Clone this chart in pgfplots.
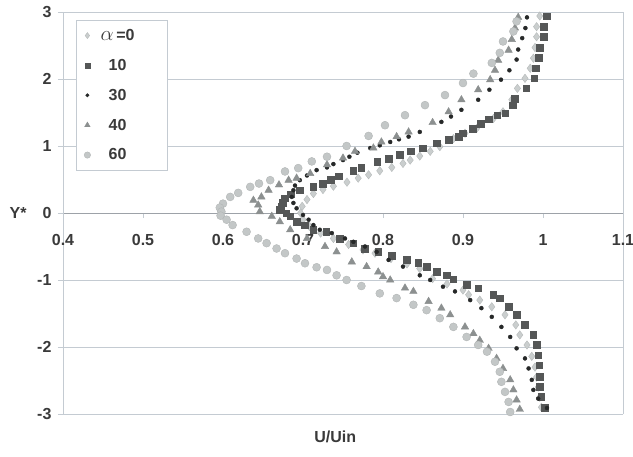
\documentclass[border=0pt]{standalone}
\usepackage{pgfplots}
\pgfplotsset{compat=1.18}
\usepackage{fontspec}
\setmainfont{Liberation Sans}
\definecolor{txt}{HTML}{3A3A3A}
\definecolor{gridc}{HTML}{C4CBD2}
\definecolor{cdiam}{HTML}{CACECE}
\definecolor{cdiamE}{HTML}{B6BABA}
\definecolor{csq}{HTML}{555757}
\definecolor{cdot}{HTML}{262828}
\definecolor{ctri}{HTML}{8C9090}
\definecolor{ccirc}{HTML}{C3C7C7}
\definecolor{ccircE}{HTML}{B2B6B6}
\newcommand{\lt}[1]{\makebox[70pt][l]{\makebox[50pt][c]{#1}}}
\begin{document}
\begin{tikzpicture}
\path[use as bounding box] (-63pt,-42pt) rectangle (570pt,414pt);
\begin{axis}[
  scale only axis, width=560pt, height=402pt,
  xmin=0.4, xmax=1.1, ymin=-3, ymax=3,
  axis x line=middle, axis y line=box,
  x axis line style={-, color=gridc!80!black, line width=0.6pt},
  y axis line style={-, color=gridc, line width=0.6pt},
  xtick={0.4,0.5,0.6,0.7,0.8,0.9,1,1.1},
  ytick={-3,-2,-1,0,1,2,3},
  ytick pos=left,
  tick align=outside,
  major tick length=5pt,
  tick style={color=gridc, line width=0.6pt},
  hide obscured x ticks=false,
  hide obscured y ticks=false,
  ymajorgrids, grid style={color=gridc, line width=0.6pt},
  /pgf/number format/assume math mode=true,
  tick label style={font=\fontsize{16}{19}\selectfont\bfseries, text=txt},
  xticklabel style={yshift=-13pt},
  yticklabel style={xshift=-3pt},
  every axis x label/.style={at={(axis description cs:0.486,-0.057)}, anchor=center},
  every axis y label/.style={at={(axis description cs:-0.080,0.5)}, anchor=center},
  label style={font=\fontsize{16}{19}\selectfont\bfseries, text=txt},
  xlabel={U/Uin}, ylabel={Y*},
  legend style={at={(axis description cs:0.0232,0.980)}, anchor=north west,
    draw=gridc, fill=white, font=\fontsize{16}{19}\selectfont\bfseries, text=txt,
    row sep=13.2pt, inner xsep=3pt, inner ysep=7pt},
  legend cell align=center,
  /tikz/every even column/.append style={column sep=2pt},
  legend image code/.code={\path (0pt,0pt) (11pt,0pt); \draw[#1] plot coordinates {(8pt,0pt)};},
]
\addplot[only marks, mark=diamond*, mark size=4.2pt, mark options={fill=cdiam, draw=cdiamE}, legend image post style={mark size=3pt}] coordinates {
(0.996,2.94)(0.992,2.78)(0.992,2.63)(0.990,2.47)(0.988,2.31)(0.984,2.16)(0.9775,2.01)(0.968,1.86)(0.961,1.69)(0.950,1.51)(0.938,1.41)(0.917,1.26)(0.9025,1.19)(0.888,1.11)(0.871,0.99)(0.859,0.92)(0.846,0.85)(0.834,0.79)(0.825,0.74)(0.811,0.68)(0.796,0.63)(0.782,0.57)(0.769,0.52)(0.755,0.46)(0.738,0.40)(0.725,0.35)(0.713,0.29)(0.705,0.20)(0.699,0.10)(0.697,0.00)(0.700,-0.10)(0.708,-0.20)(0.722,-0.30)(0.738,-0.38)(0.757,-0.47)(0.775,-0.55)(0.790,-0.60)(0.810,-0.68)(0.830,-0.76)(0.846,-0.83)(0.862,-0.98)(0.880,-1.06)(0.900,-1.15)(0.907,-1.22)(0.921,-1.30)(0.936,-1.40)(0.9525,-1.52)(0.966,-1.67)(0.971,-1.82)(0.980,-1.97)(0.986,-2.14)(0.990,-2.30)(0.992,-2.45)(0.994,-2.60)(0.996,-2.75)(0.998,-2.90)
};
\addlegendentry{\lt{{\fontsize{21}{21}\selectfont$\alpha$}\,=0}}
\addplot[only marks, mark=square*, mark size=3.3pt, mark options={fill=csq, draw=csq}, legend image post style={mark size=2.6pt}] coordinates {
(1.005,2.94)(1.001,2.78)(1.001,2.63)(0.996,2.47)(0.995,2.32)(0.991,2.16)(0.989,2.01)(0.979,1.86)(0.965,1.71)(0.962,1.61)(0.953,1.49)(0.943,1.46)(0.9325,1.40)(0.9225,1.33)(0.912,1.26)(0.900,1.19)(0.895,1.14)(0.882,1.09)(0.867,1.04)(0.850,0.97)(0.835,0.92)(0.821,0.87)(0.8075,0.81)(0.793,0.77)(0.773,0.68)(0.763,0.63)(0.745,0.55)(0.735,0.50)(0.725,0.44)(0.713,0.39)(0.696,0.34)(0.685,0.28)(0.6775,0.22)(0.675,0.15)(0.673,0.09)(0.671,0.045)(0.679,0.00)(0.684,-0.05)(0.692,-0.13)(0.7025,-0.18)(0.713,-0.25)(0.729,-0.28)(0.746,-0.38)(0.763,-0.45)(0.7775,-0.53)(0.794,-0.58)(0.811,-0.64)(0.8295,-0.70)(0.844,-0.74)(0.8545,-0.80)(0.867,-0.88)(0.8795,-0.93)(0.888,-0.99)(0.9045,-1.07)(0.919,-1.12)(0.938,-1.22)(0.946,-1.27)(0.957,-1.40)(0.967,-1.52)(0.9775,-1.67)(0.988,-1.82)(0.992,-1.97)(0.994,-2.12)(0.9955,-2.27)(0.996,-2.44)(0.996,-2.59)(0.998,-2.74)(1.0025,-2.91)
};
\addlegendentry{\lt{10}}
\addplot[only marks, mark=*, mark size=2pt, mark options={fill=cdot, draw=cdot}, legend image post style={mark size=1.7pt}] coordinates {
(0.980,2.92)(0.978,2.76)(0.974,2.61)(0.969,2.44)(0.967,2.29)(0.958,2.13)(0.9475,1.99)(0.933,1.84)(0.919,1.69)(0.898,1.54)(0.885,1.44)(0.873,1.36)(0.846,1.21)(0.832,1.14)(0.820,1.10)(0.809,1.06)(0.796,1.01)(0.784,0.97)(0.768,0.90)(0.758,0.84)(0.750,0.79)(0.738,0.73)(0.730,0.68)(0.717,0.64)(0.705,0.56)(0.696,0.49)(0.690,0.41)(0.688,0.34)(0.686,0.24)(0.688,0.15)(0.692,0.07)(0.700,-0.03)(0.707,-0.10)(0.713,-0.18)(0.721,-0.25)(0.736,-0.30)(0.7525,-0.38)(0.763,-0.43)(0.7775,-0.50)(0.792,-0.58)(0.807,-0.70)(0.825,-0.80)(0.846,-0.93)(0.859,-1.00)(0.875,-1.10)(0.890,-1.17)(0.909,-1.30)(0.923,-1.42)(0.936,-1.55)(0.948,-1.70)(0.959,-1.85)(0.967,-2.02)(0.9775,-2.17)(0.982,-2.32)(0.986,-2.49)(0.988,-2.64)(0.994,-2.77)(1.005,-2.91)
};
\addlegendentry{\lt{30}}
\addplot[only marks, mark=triangle*, mark size=4.3pt, mark options={fill=ctri, draw=ctri}, legend image post style={mark size=3.2pt}] coordinates {
(0.969,2.92)(0.965,2.76)(0.961,2.59)(0.957,2.43)(0.944,2.28)(0.940,2.13)(0.934,1.99)(0.919,1.84)(0.898,1.69)(0.882,1.51)(0.862,1.35)(0.832,1.21)(0.817,1.14)(0.798,1.06)(0.788,0.97)(0.765,0.92)(0.750,0.82)(0.730,0.72)(0.709,0.59)(0.692,0.52)(0.682,0.49)(0.670,0.42)(0.657,0.34)(0.648,0.24)(0.638,0.19)(0.644,0.12)(0.646,0.02)(0.661,-0.05)(0.671,-0.13)(0.684,-0.25)(0.705,-0.38)(0.7275,-0.50)(0.742,-0.58)(0.761,-0.73)(0.7795,-0.80)(0.794,-0.88)(0.800,-0.95)(0.809,-1.00)(0.8275,-1.12)(0.838,-1.17)(0.857,-1.32)(0.873,-1.42)(0.884,-1.52)(0.9025,-1.70)(0.913,-1.80)(0.921,-1.90)(0.932,-2.02)(0.942,-2.17)(0.950,-2.32)(0.959,-2.49)(0.963,-2.64)(0.967,-2.79)(0.971,-2.93)
};
\addlegendentry{\lt{40}}
\addplot[only marks, mark=*, mark size=4pt, mark options={fill=ccirc, draw=ccircE}, legend image post style={mark size=3.2pt}] coordinates {
(0.967,2.86)(0.963,2.71)(0.950,2.56)(0.946,2.39)(0.936,2.24)(0.913,2.08)(0.900,1.94)(0.8775,1.76)(0.8525,1.61)(0.8275,1.46)(0.8025,1.31)(0.782,1.15)(0.7545,1.00)(0.730,0.84)(0.711,0.77)(0.694,0.67)(0.6775,0.62)(0.659,0.49)(0.645,0.44)(0.634,0.39)(0.619,0.30)(0.609,0.24)(0.600,0.14)(0.596,0.08)(0.598,0.02)(0.597,-0.04)(0.6045,-0.10)(0.612,-0.18)(0.6295,-0.28)(0.644,-0.38)(0.6545,-0.45)(0.667,-0.53)(0.6775,-0.60)(0.692,-0.68)(0.7025,-0.75)(0.717,-0.81)(0.730,-0.85)(0.742,-0.93)(0.7545,-1.00)(0.773,-1.09)(0.796,-1.20)(0.817,-1.27)(0.838,-1.37)(0.8545,-1.45)(0.871,-1.57)(0.888,-1.70)(0.9045,-1.85)(0.919,-1.97)(0.930,-2.07)(0.940,-2.22)(0.946,-2.37)(0.948,-2.52)(0.9525,-2.67)(0.957,-2.82)(0.959,-2.97)
};
\addlegendentry{\lt{60}}
\end{axis}
\end{tikzpicture}
\end{document}
